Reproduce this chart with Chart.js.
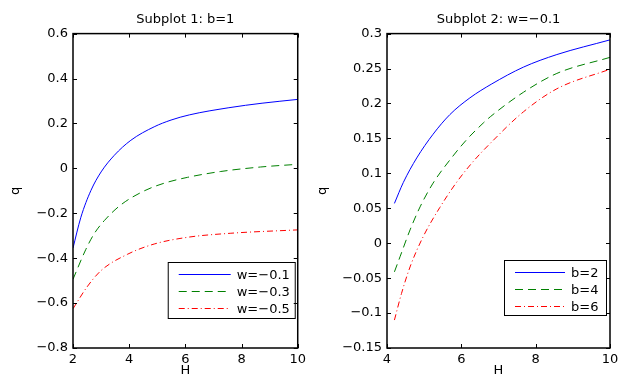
<!DOCTYPE html>
<html>
<head>
<meta charset="utf-8">
<script src="https://cdn.jsdelivr.net/npm/chart.js@4.4.1/dist/chart.umd.min.js"></script>
<style>
  html, body { margin: 0; padding: 0; background: #fff; overflow: hidden; }
  #page { position: relative; width: 618px; height: 376px; overflow: hidden; }
  #left { position: absolute; left: 0; top: 0; width: 310px; height: 376px; }
  #right { position: absolute; left: 310px; top: 0; width: 330px; height: 376px; }
</style>
</head>
<body>
<div id="page">
  <div id="left"><canvas id="chart1"></canvas></div>
  <div id="right"><canvas id="chart2"></canvas></div>
</div>
<script>
// subplot 1: b=1
const h1Blue = [2, 2.28, 2.64, 3, 3.47, 4.06, 4.89, 5.49, 6.14, 7.55, 8.73, 10];
const q1Blue = [-0.355, -0.218, -0.098, -0.016, 0.058, 0.125, 0.185, 0.215, 0.238, 0.270, 0.290, 0.307];
const h1Green = [2, 2.46, 2.76, 3.12, 3.71, 4.54, 5.25, 6.08, 7.26, 8.68, 10];
const q1Green = [-0.494, -0.36, -0.29, -0.232, -0.162, -0.100, -0.066, -0.040, -0.014, 0.006, 0.018];
const h1Red = [2, 2.5, 3, 3.95, 4.89, 6.08, 7.62, 10];
const q1Red = [-0.625, -0.528, -0.455, -0.382, -0.337, -0.307, -0.289, -0.274];
const labels1 = ["w=\u22120.1", "w=\u22120.3", "w=\u22120.5"];
const xTicks1 = [2, 4, 6, 8, 10];
const yTicks1 = [-0.8, -0.6, -0.4, -0.2, 0, 0.2, 0.4, 0.6];

// subplot 2: w=-0.1
const h2Blue = [4.2, 4.44, 4.8, 5.24, 5.69, 6.23, 6.82, 7.67, 8.57, 10];
const q2Blue = [0.057, 0.087, 0.122, 0.156, 0.184, 0.208, 0.228, 0.252, 0.270, 0.291];
const h2Green = [4.2, 4.35, 4.62, 4.89, 5.24, 5.69, 6.14, 6.59, 6.78, 7.67, 8.57, 10];
const q2Green = [-0.041, -0.0195, 0.019, 0.052, 0.086, 0.119, 0.148, 0.172, 0.181, 0.216, 0.243, 0.266];
const h2Red = [4.2, 4.39, 4.62, 4.97, 5.42, 5.87, 6.32, 6.78, 7.67, 8.57, 10];
const q2Red = [-0.110, -0.072, -0.034, 0.009, 0.051, 0.087, 0.117, 0.143, 0.188, 0.221, 0.249];
const labels2 = ["b=2", "b=4", "b=6"];
const xTicks2 = [4, 6, 8, 10];
const yTicks2 = [-0.15, -0.1, -0.05, 0, 0.05, 0.1, 0.15, 0.2, 0.25, 0.3];

const FONT = "DejaVu Sans";

function zip(xs, ys)
{
  return xs.map((x, i) => ({ x: x, y: ys[i] }));
}

function fmt(v)
{
  return String(Math.round(v * 100) / 100).replace("-", "\u2212");
}

function makeDatasets(series, labels)
{
  const styles = [
    { color: "#0000ff", dash: [] },
    { color: "#008000", dash: [8, 5] },
    { color: "#ff0000", dash: [6, 3, 1, 3] }
  ];
  return series.map((pts, i) => ({
    label: labels[i],
    data: pts,
    borderColor: styles[i].color,
    borderDash: styles[i].dash,
    borderWidth: 1,
    pointRadius: 0,
    fill: false,
    cubicInterpolationMode: "monotone"
  }));
}

// box around the axes with inward ticks on all four sides
const framePlugin = {
  id: "frame",
  afterDraw(chart)
  {
    const ctx = chart.ctx;
    const a = chart.chartArea;
    const tl = 4;
    ctx.save();
    ctx.strokeStyle = "#000";
    ctx.lineWidth = 1;
    chart.scales.x.ticks.forEach(t => {
      const px = Math.round(chart.scales.x.getPixelForValue(t.value)) + 0.5;
      ctx.beginPath();
      ctx.moveTo(px, a.bottom); ctx.lineTo(px, a.bottom - tl);
      ctx.moveTo(px, a.top); ctx.lineTo(px, a.top + tl);
      ctx.stroke();
    });
    chart.scales.y.ticks.forEach(t => {
      const py = Math.round(chart.scales.y.getPixelForValue(t.value)) + 0.5;
      ctx.beginPath();
      ctx.moveTo(a.left, py); ctx.lineTo(a.left + tl, py);
      ctx.moveTo(a.right, py); ctx.lineTo(a.right - tl, py);
      ctx.stroke();
    });
    ctx.lineWidth = 1.5;
    ctx.strokeRect(a.left, a.top, a.right - a.left, a.bottom - a.top);
    ctx.restore();
  }
};

// legend box drawn inside the axes, lower right
const boxLegendPlugin = {
  id: "boxLegend",
  afterDatasetsDraw(chart, args, opts)
  {
    const ctx = chart.ctx;
    const a = chart.chartArea;
    const x0 = a.right - opts.right - opts.width;
    const y0 = a.bottom - opts.bottom - opts.height;
    ctx.save();
    ctx.fillStyle = "#fff";
    ctx.fillRect(x0, y0, opts.width, opts.height);
    ctx.strokeStyle = "#000";
    ctx.lineWidth = 1;
    ctx.strokeRect(x0 + 0.5, y0 + 0.5, opts.width, opts.height);
    ctx.font = "13px '" + FONT + "'";
    ctx.textBaseline = "middle";
    chart.data.datasets.forEach((ds, i) => {
      const y = Math.round(y0 + 12 + i * 17) + 0.5;
      ctx.strokeStyle = ds.borderColor;
      ctx.setLineDash(ds.borderDash);
      ctx.beginPath();
      ctx.moveTo(x0 + 11, y);
      ctx.lineTo(x0 + 11 + opts.lineLen, y);
      ctx.stroke();
      ctx.setLineDash([]);
      ctx.fillStyle = "#000";
      ctx.fillText(ds.label, x0 + 17 + opts.lineLen, y + 1);
    });
    ctx.restore();
  }
};

function makeChart(id, cfg)
{
  const tickFont = { family: FONT, size: 13 };
  return new Chart(document.getElementById(id), {
    type: "line",
    data: { datasets: makeDatasets(cfg.series, cfg.labels) },
    plugins: [framePlugin, boxLegendPlugin],
    options: {
      responsive: true,
      maintainAspectRatio: false,
      animation: false,
      layout: { padding: { left: cfg.padLeft, right: cfg.padRight, top: 0, bottom: 0 } },
      plugins: {
        legend: { display: false },
        tooltip: { enabled: false },
        title: {
          display: true,
          text: cfg.title,
          fullSize: false,
          color: "#000",
          font: { family: FONT, size: 13, weight: "normal" },
          padding: { top: 12, bottom: 6 }
        },
        boxLegend: cfg.legend
      },
      scales: {
        x: {
          type: "linear",
          min: cfg.xMin,
          max: cfg.xMax,
          afterBuildTicks: s => { s.ticks = cfg.xTicks.map(v => ({ value: v })); },
          afterFit: s => { s.height = 28; },
          grid: { display: false, drawTicks: false },
          border: { display: false },
          ticks: { color: "#000", font: tickFont, padding: 4, maxRotation: 0, autoSkip: false, callback: v => fmt(v) },
          title: { display: true, text: "H", color: "#000", font: tickFont, padding: { top: 0, bottom: -2 } }
        },
        y: {
          type: "linear",
          min: cfg.yMin,
          max: cfg.yMax,
          afterBuildTicks: s => { s.ticks = cfg.yTicks.map(v => ({ value: v })); },
          afterFit: s => { s.width = cfg.yWidth; },
          grid: { display: false, drawTicks: false },
          border: { display: false },
          ticks: { color: "#000", font: tickFont, padding: 5, autoSkip: false, callback: v => fmt(v) },
          title: { display: true, text: "q", color: "#000", font: tickFont, padding: 0 }
        }
      }
    }
  });
}

makeChart("chart1", {
  title: "Subplot 1: b=1",
  series: [zip(h1Blue, q1Blue), zip(h1Green, q1Green), zip(h1Red, q1Red)],
  labels: labels1,
  xMin: 2, xMax: 10, xTicks: xTicks1,
  yMin: -0.8, yMax: 0.6, yTicks: yTicks1,
  padLeft: 8, padRight: 12, yWidth: 65,
  legend: { right: 3, bottom: 30, width: 127, height: 56, lineLen: 52 }
});

makeChart("chart2", {
  title: "Subplot 2: w=\u22120.1",
  series: [zip(h2Blue, q2Blue), zip(h2Green, q2Green), zip(h2Red, q2Red)],
  labels: labels2,
  xMin: 4, xMax: 10, xTicks: xTicks2,
  yMin: -0.15, yMax: 0.3, yTicks: yTicks2,
  padLeft: 5, padRight: 30, yWidth: 72,
  legend: { right: 4, bottom: 33, width: 102, height: 55, lineLen: 50 }
});
</script>
</body>
</html>
